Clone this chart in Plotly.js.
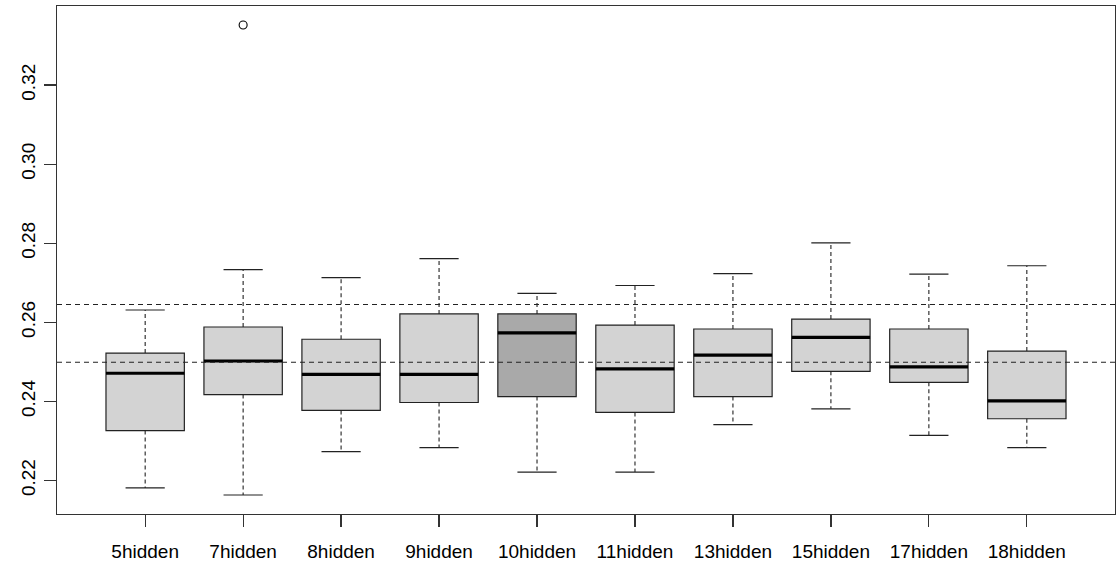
<!DOCTYPE html>
<html>
<head>
<meta charset="utf-8">
<script src="https://cdn.plot.ly/plotly-3.0.1.min.js"></script>
<style>html,body{margin:0;padding:0;background:#fff;}#chart{width:1116px;height:567px;}</style>
</head>
<body>
<div id="chart"></div>
<script>
// ---- data ----
const categories = ["5hidden","7hidden","8hidden","9hidden","10hidden","11hidden","13hidden","15hidden","17hidden","18hidden"];
const lowerWhisker = [0.2181,0.2163,0.2273,0.2283,0.2221,0.2221,0.2341,0.2381,0.2314,0.2283];
const q1Values     = [0.2326,0.2417,0.2377,0.2397,0.2412,0.2372,0.2412,0.2476,0.2448,0.2356];
const medianValues = [0.2471,0.2502,0.2468,0.2468,0.2573,0.2482,0.2517,0.2562,0.2487,0.2401];
const q3Values     = [0.2522,0.2588,0.2557,0.2621,0.2621,0.2593,0.2583,0.2608,0.2583,0.2527];
const upperWhisker = [0.2631,0.2733,0.2713,0.2761,0.2673,0.2693,0.2723,0.2801,0.2722,0.2743];
const outlierCategory = ["7hidden"];
const outlierValues   = [0.3352];
const referenceLines  = [0.2645, 0.2499];
const highlighted     = ["10hidden"];
const yTicks = [0.22,0.24,0.26,0.28,0.30,0.32];

// ---- styling ----
const boxWidth = 0.8, capHalf = 0.2;
const lightFill = "#D3D3D3", darkFill = "#A9A9A9";
const positions = categories.map((c,i)=>i+1);

const traces = [];
categories.forEach((c,i)=>{
  const p = positions[i];
  traces.push({
    type:"box", orientation:"v", x:[p],
    q1:[q1Values[i]], median:[medianValues[i]], q3:[q3Values[i]],
    lowerfence:[q1Values[i]], upperfence:[q3Values[i]],
    width:boxWidth, whiskerwidth:0, boxpoints:false,
    fillcolor: highlighted.includes(c) ? darkFill : lightFill,
    line:{color:"#222", width:1.2},
    hoverinfo:"skip", showlegend:false
  });
});
// dashed whiskers
const wx=[], wy=[];
categories.forEach((c,i)=>{
  const p=positions[i];
  wx.push(p,p,null,p,p,null);
  wy.push(q3Values[i],upperWhisker[i],null,q1Values[i],lowerWhisker[i],null);
});
traces.push({type:"scatter",mode:"lines",x:wx,y:wy,line:{color:"#222",width:1.1,dash:"4px,3px"},hoverinfo:"skip",showlegend:false});
// whisker caps
const cx=[], cy=[];
categories.forEach((c,i)=>{
  const p=positions[i];
  cx.push(p-capHalf,p+capHalf,null,p-capHalf,p+capHalf,null);
  cy.push(upperWhisker[i],upperWhisker[i],null,lowerWhisker[i],lowerWhisker[i],null);
});
traces.push({type:"scatter",mode:"lines",x:cx,y:cy,line:{color:"#222",width:1.2},hoverinfo:"skip",showlegend:false});
// medians
const mx=[], my=[];
categories.forEach((c,i)=>{
  const p=positions[i];
  mx.push(p-boxWidth/2,p+boxWidth/2,null);
  my.push(medianValues[i],medianValues[i],null);
});
traces.push({type:"scatter",mode:"lines",x:mx,y:my,line:{color:"#000",width:3.2},hoverinfo:"skip",showlegend:false});
// outliers
traces.push({type:"scatter",mode:"markers",
  x:outlierCategory.map(c=>positions[categories.indexOf(c)]), y:outlierValues,
  marker:{symbol:"circle-open",size:8,color:"#000",line:{width:1.1}},
  hoverinfo:"skip",showlegend:false});

const shapes = referenceLines.map(v=>({type:"line",xref:"paper",x0:0,x1:1,yref:"y",y0:v,y1:v,
  layer:"above",line:{color:"#222",width:1.1,dash:"5px,4px"}}));

const layout = {
  width:1116, height:567,
  margin:{l:57,r:1,t:6,b:53,pad:0},
  paper_bgcolor:"#fff", plot_bgcolor:"#fff",
  font:{family:"'Liberation Sans', Arial, sans-serif", size:19, color:"#000"},
  showlegend:false, boxmode:"overlay",
  xaxis:{range:[0.1,10.9], tickmode:"array", tickvals:positions, ticktext:categories,
    showgrid:false, zeroline:false, showline:true, mirror:true, linecolor:"#333", linewidth:1.2,
    ticks:"outside", ticklen:12, tickcolor:"#333", tickwidth:1.2, ticklabelstandoff:8,
    tickfont:{size:19}},
  yaxis:{range:[0.2115,0.34], tickmode:"array", tickvals:yTicks, ticktext:yTicks.map(v=>v.toFixed(2)),
    showgrid:false, zeroline:false, showline:true, mirror:true, linecolor:"#333", linewidth:1.2,
    ticks:"outside", ticklen:12, tickcolor:"#333", tickwidth:1.2, tickangle:-90, ticklabelstandoff:1,
    tickfont:{size:19}},
  shapes:shapes
};
Plotly.newPlot("chart", traces, layout, {staticPlot:true, displayModeBar:false});
</script>
</body>
</html>
